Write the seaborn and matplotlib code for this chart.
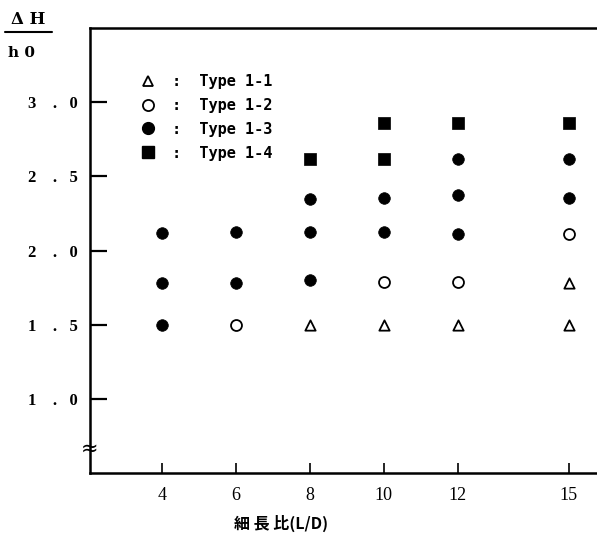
import pandas as pd
import seaborn as sns
import matplotlib.pyplot as plt
from matplotlib.lines import Line2D

# L/D values and dH/h0 per type
x_type_1_1 = [8, 10, 12, 15, 15]
y_type_1_1 = [1.50, 1.50, 1.50, 1.50, 1.78]

x_type_1_2 = [6, 10, 12, 15]
y_type_1_2 = [1.50, 1.79, 1.785, 2.11]

x_type_1_3 = [4, 4, 4, 6, 6, 8, 8, 8, 10, 10, 12, 12, 12, 15, 15]
y_type_1_3 = [1.50, 1.78, 2.115, 1.78, 2.125, 1.80, 2.125, 2.35,
              2.125, 2.355, 2.11, 2.375, 2.62, 2.355, 2.615]

x_type_1_4 = [8, 10, 10, 12, 15]
y_type_1_4 = [2.62, 2.615, 2.86, 2.86, 2.86]

x_ticks = [4, 6, 8, 10, 12, 15]
y_ticks = [1.0, 1.5, 2.0, 2.5, 3.0]
y_tick_labels = ["1    .   0", "1    .   5", "2    .   0", "2    .   5", "3    .   0"]
type_names = ["Type 1-1", "Type 1-2", "Type 1-3", "Type 1-4"]

frames = []
for name, xs, ys in zip(type_names,
                        [x_type_1_1, x_type_1_2, x_type_1_3, x_type_1_4],
                        [y_type_1_1, y_type_1_2, y_type_1_3, y_type_1_4]):
    frames.append(pd.DataFrame({"LD": xs, "dH": ys, "type": name}))
df = pd.concat(frames, ignore_index=True)

sns.set_style("white")
plt.rcParams.update({"text.color": "black", "xtick.color": "black",
                     "ytick.color": "black", "axes.labelcolor": "black"})

fig = plt.figure(figsize=(5.97, 5.38), dpi=100)
ax = fig.add_axes([90 / 597, 65.3 / 538, 507 / 597, 444.4 / 538])

styles = {
    "Type 1-1": dict(marker="^", s=55, facecolor="white", edgecolor="black", linewidth=1.3),
    "Type 1-2": dict(marker="o", s=62, facecolor="white", edgecolor="black", linewidth=1.3),
    "Type 1-3": dict(marker="o", s=70, facecolor="black", edgecolor="black", linewidth=0.5),
    "Type 1-4": dict(marker="s", s=75, facecolor="black", edgecolor="black", linewidth=0.5),
}
for name in type_names:
    sub = df[df["type"] == name]
    sns.scatterplot(data=sub, x="LD", y="dH", ax=ax, legend=False, zorder=3, **styles[name])

ax.set_xlim(2.06, 15.76)
ax.set_ylim(0.5, 3.5)

ax.set_xticks(x_ticks)
ax.set_xticklabels([str(v) for v in x_ticks], family="Liberation Serif", fontsize=13)
ax.set_yticks(y_ticks)
ax.set_yticklabels(y_tick_labels, family="Liberation Serif", fontsize=12, fontweight="bold")
ax.tick_params(axis="x", bottom=True, direction="in", length=7, width=1.2, pad=10)
ax.tick_params(axis="y", left=True, direction="in", length=12, width=1.6, pad=9)

for side in ["left", "bottom", "top"]:
    ax.spines[side].set_linewidth(1.8)
    ax.spines[side].set_color("black")
ax.spines["right"].set_visible(False)

ax.set_xlabel("")
ax.set_ylabel("")

# axis break mark on the y axis
ax.text(0, 0.66, "≈", transform=ax.get_yaxis_transform(), ha="center", va="center",
        fontsize=15, family="DejaVu Sans")

# x label
fig.text(281 / 597, 1 - 523 / 538, "細 長 比(L/D)", ha="center", va="center",
         fontsize=11.5, fontweight="bold", family=["Noto Sans CJK JP", "DejaVu Sans"])

# y label as a fraction
fig.text(28 / 597, 1 - 20 / 538, "Δ H", ha="center", va="center",
         fontsize=12, fontweight="bold", family="DejaVu Serif")
fig.add_artist(Line2D([5 / 597, 52 / 597], [1 - 32 / 538, 1 - 32 / 538],
                      color="black", linewidth=1.5, transform=fig.transFigure))
fig.text(21 / 597, 1 - 53 / 538, "h 0", ha="center", va="center",
         fontsize=11, fontweight="bold", family="DejaVu Serif")

handles = [
    Line2D([], [], linestyle="none", marker="^", markersize=7.5, markerfacecolor="white",
           markeredgecolor="black", markeredgewidth=1.3),
    Line2D([], [], linestyle="none", marker="o", markersize=8, markerfacecolor="white",
           markeredgecolor="black", markeredgewidth=1.3),
    Line2D([], [], linestyle="none", marker="o", markersize=8.5, markerfacecolor="black",
           markeredgecolor="black"),
    Line2D([], [], linestyle="none", marker="s", markersize=8.5, markerfacecolor="black",
           markeredgecolor="black"),
]
labels = [":  " + n for n in type_names]
ax.legend(handles, labels, loc="upper left", bbox_to_anchor=(0.0986, 0.897),
          frameon=False, borderpad=0, borderaxespad=0, handlelength=1.0,
          handletextpad=1.1, labelspacing=0.58,
          prop={"family": "DejaVu Sans Mono", "weight": "bold", "size": 11})

fig.savefig("out.png", dpi=100)
